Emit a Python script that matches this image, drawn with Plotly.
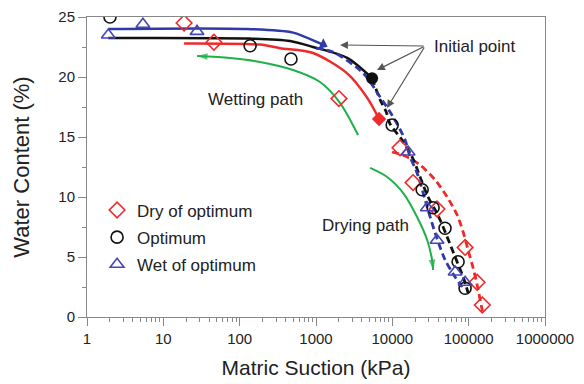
import math
import plotly.graph_objects as go

# ---------------- data (suction in kPa, water content in %) ----------------
dry_x = [18.7, 46, 2000, 12600, 18700, 38500, 89800, 129000, 151000]
dry_w = [24.5, 22.9, 18.2, 14.1, 11.2, 9.0, 5.8, 2.9, 1.0]
opt_x = [2.0, 137, 470, 9950, 24600, 34200, 49000, 72700, 89800]
opt_w = [25.0, 22.6, 21.5, 16.0, 10.6, 9.1, 7.4, 4.6, 2.4]
wet_x = [1.9, 5.4, 27.6, 16100, 28700, 38500, 66500, 89800]
wet_w = [23.5, 24.4, 23.8, 13.75, 9.1, 6.4, 3.75, 2.9]

# initial points
dry_init = (6700, 16.5)
opt_init = (5430, 19.9)
wet_init = (1240, 22.7)

# fitted curves - wetting (solid) and drying (dashed)
dry_wetting_x = [18.7, 185, 338, 915, 2560, 4650, 6700]
dry_wetting_w = [22.8, 22.7, 22.4, 22.0, 20.3, 18.3, 16.5]
dry_drying_x = [9930, 14700, 23100, 36400, 52300, 70700, 84700, 98400, 114500, 129200, 145800, 154900]
dry_drying_w = [13.75, 13.42, 12.67, 11.42, 10.0, 8.5, 7.08, 5.58, 4.08, 2.67, 1.0, 0.17]

opt_wetting_x = [1.9, 137, 457, 915, 2560, 5430]
opt_wetting_w = [23.25, 23.2, 23.0, 22.5, 21.6, 19.9]
opt_drying_x = [5430, 6920, 8300, 9360, 13400, 18200, 23100, 29400, 36400, 42300, 52300, 66500, 84700, 98400]
opt_drying_w = [19.9, 18.1, 17.1, 16.08, 14.75, 13.33, 11.67, 10.0, 8.92, 8.08, 6.67, 5.0, 3.33, 2.0]

wet_wetting_x = [1.9, 125, 500, 1130, 1240]
wet_wetting_w = [24.0, 24.0, 23.7, 22.8, 22.7]
wet_drying_x = [1000, 1675, 4140, 6920, 10240, 14700, 17100, 21100, 28600, 36400, 49200, 66500, 82200]
wet_drying_w = [22.4, 22.08, 20.33, 18.33, 16.67, 14.75, 13.33, 12.0, 9.17, 7.0, 4.75, 3.33, 2.5]

# path arrows (green)
wetting_arrow_x = [3560, 2070, 1130, 501, 185, 74.8, 27.7]
wetting_arrow_w = [15.17, 17.83, 19.58, 20.58, 21.25, 21.58, 21.75]
drying_arrow_x = [5120, 8550, 13900, 21100, 28600, 33200, 34300]
drying_arrow_w = [12.42, 11.67, 10.33, 8.33, 6.42, 4.75, 3.92]

# "Initial point" call-out
callout_tail = (26900, 22.58)
callout_targets = [(2070, 22.67), (6300, 20.58), (8500, 17.42)]

tick_vals = [1, 10, 100, 1000, 10000, 100000, 1000000]
tick_text = ["1", "10", "100", "1000", "10000", "100000", "1000000"]
minor_vals = [m * 10 ** k for k in range(6) for m in range(2, 10)]

RED = "#ee2a2a"
BLACK = "#111111"
BLUE = "#2e3aa8"
BLUE_M = "#4646b8"
GREEN = "#1fb04a"
FONT = "Liberation Sans, Arial, sans-serif"

fig = go.Figure()

def line(x, y, color, dash="solid", width=2.5):
    fig.add_trace(go.Scatter(x=x, y=y, mode="lines", showlegend=False, hoverinfo="skip",
                             line=dict(color=color, width=width, dash=dash, shape="spline", smoothing=0.8)))

line(wetting_arrow_x, wetting_arrow_w, GREEN, width=2)
line(drying_arrow_x, drying_arrow_w, GREEN, width=2)
line(dry_wetting_x, dry_wetting_w, RED)
line(opt_wetting_x, opt_wetting_w, BLACK)
line(wet_wetting_x, wet_wetting_w, BLUE)
line(dry_drying_x, dry_drying_w, RED, dash="7px,4px", width=2.8)
line(opt_drying_x, opt_drying_w, BLACK, dash="7px,4px", width=2.8)
line(wet_drying_x, wet_drying_w, BLUE, dash="7px,4px", width=2.8)

# green arrow heads
for ax_, aw_ in [(wetting_arrow_x, wetting_arrow_w), (drying_arrow_x, drying_arrow_w)]:
    fig.add_trace(go.Scatter(x=ax_[-2:], y=aw_[-2:], mode="markers", showlegend=False, hoverinfo="skip",
                             marker=dict(symbol="arrow", angleref="previous", size=[0, 11],
                                         color=GREEN, line=dict(width=0))))

# data markers
fig.add_trace(go.Scatter(x=dry_x, y=dry_w, mode="markers", name="Dry of optimum", legendgroup="a",
                         marker=dict(symbol="diamond-open", size=12, color=RED, line=dict(width=1.6, color=RED))))
fig.add_trace(go.Scatter(x=opt_x, y=opt_w, mode="markers", name="Optimum", legendgroup="b",
                         marker=dict(symbol="circle-open", size=12, color=BLACK, line=dict(width=1.6, color=BLACK))))
fig.add_trace(go.Scatter(x=wet_x, y=wet_w, mode="markers", name="Wet of optimum", legendgroup="c",
                         marker=dict(symbol="triangle-up-open", size=12, color=BLUE_M, line=dict(width=1.6, color=BLUE_M))))

# initial points
fig.add_trace(go.Scatter(x=[dry_init[0]], y=[dry_init[1]], mode="markers", showlegend=False,
                         marker=dict(symbol="diamond", size=11, color=RED)))
fig.add_trace(go.Scatter(x=[opt_init[0]], y=[opt_init[1]], mode="markers", showlegend=False,
                         marker=dict(symbol="circle", size=12, color=BLACK)))
fig.add_trace(go.Scatter(x=[wet_init[0]], y=[wet_init[1]], mode="markers", showlegend=False,
                         marker=dict(symbol="triangle-right", size=10, angle=25, color=BLUE)))

annotations = []
for tx, tw in callout_targets:
    annotations.append(dict(x=math.log10(tx), y=tw, ax=math.log10(callout_tail[0]), ay=callout_tail[1],
                            xref="x", yref="y", axref="x", ayref="y", text="", showarrow=True,
                            arrowhead=2, arrowsize=1.3, arrowwidth=1.2, arrowcolor="#555555"))
annotations.append(dict(x=math.log10(callout_tail[0]) + 0.09, y=callout_tail[1], xref="x", yref="y",
                        text="Initial point", showarrow=False, xanchor="left",
                        font=dict(family=FONT, size=17, color="#222")))
annotations.append(dict(x=math.log10(159), y=18.1, xref="x", yref="y", text="Wetting path",
                        showarrow=False, font=dict(family=FONT, size=17, color="#222")))
annotations.append(dict(x=math.log10(4400), y=7.6, xref="x", yref="y", text="Drying path",
                        showarrow=False, font=dict(family=FONT, size=17, color="#222")))

fig.update_layout(
    width=584, height=384,
    margin=dict(l=79, r=47, t=9, b=75, autoexpand=False),
    paper_bgcolor="white", plot_bgcolor="white",
    font=dict(family=FONT, color="#222", size=15),
    annotations=annotations,
    legend=dict(x=0.022, y=0.415, xanchor="left", yanchor="top", bgcolor="rgba(0,0,0,0)",
                font=dict(family=FONT, size=17, color="#222"), traceorder="grouped",
                tracegroupgap=2),
    xaxis=dict(type="log", range=[0, 6], tickvals=tick_vals, ticktext=tick_text,
               showline=True, linecolor="#888", linewidth=1, mirror=True,
               ticks="outside", ticklen=8, tickcolor="#888", showgrid=False, zeroline=False,
               minor=dict(tickvals=minor_vals, ticks="outside", ticklen=4, tickcolor="#888", showgrid=False),
               tickfont=dict(size=15, color="#222"), automargin=False,
               title=dict(text="Matric Suction (kPa)", font=dict(size=21, color="#222"), standoff=14)),
    yaxis=dict(range=[0, 25], dtick=5, showline=True, linecolor="#888", linewidth=1, mirror=True,
               ticks="outside", ticklen=8, tickcolor="#888", showgrid=False, zeroline=False,
               minor=dict(dtick=2.5, ticks="outside", ticklen=4, tickcolor="#888", showgrid=False),
               tickfont=dict(size=15, color="#222"), automargin=False,
               title=dict(text="Water Content (%)", font=dict(size=22, color="#222"), standoff=22)),
)

fig.write_html("out.html")
